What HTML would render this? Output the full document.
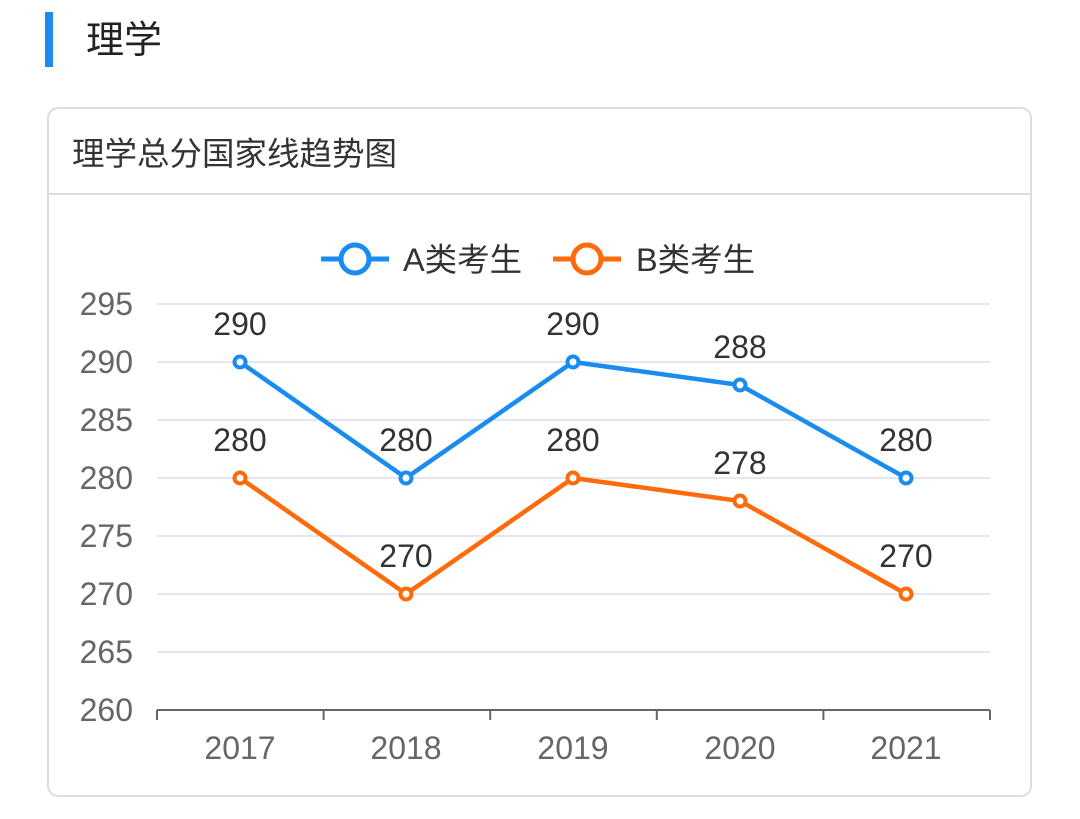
<!DOCTYPE html>
<html><head><meta charset="utf-8"><style>
body{margin:0;background:#fff;width:1080px;height:814px;overflow:hidden;font-family:"Liberation Sans","Noto Sans CJK SC",sans-serif;}
</style></head><body>
<svg width="1080" height="814" xmlns="http://www.w3.org/2000/svg" font-family="Liberation Sans, Noto Sans CJK SC, sans-serif">
<rect x="45" y="12" width="8" height="55" fill="#1a8cf0"/>
<text x="86" y="53" font-size="38" fill="#222">理学</text>
<rect x="48" y="108" width="983" height="688" rx="10" fill="#fff" stroke="#ddd" stroke-width="2"/>
<text x="72" y="165" font-size="32.5" fill="#333">理学总分国家线趋势图</text>
<line x1="48" y1="194" x2="1031" y2="194" stroke="#ddd" stroke-width="2"/>
<g stroke="#e6e6f0" stroke-width="2">
<line x1="157" y1="304" x2="990" y2="304"/><line x1="157" y1="362" x2="990" y2="362"/>
<line x1="157" y1="420" x2="990" y2="420"/><line x1="157" y1="478" x2="990" y2="478"/>
<line x1="157" y1="536" x2="990" y2="536"/><line x1="157" y1="594" x2="990" y2="594"/>
<line x1="157" y1="652" x2="990" y2="652"/>
</g>
<g stroke="#666" stroke-width="2">
<line x1="157" y1="710" x2="990" y2="710"/>
<line x1="157" y1="710" x2="157" y2="720"/><line x1="323.6" y1="710" x2="323.6" y2="720"/>
<line x1="490.2" y1="710" x2="490.2" y2="720"/><line x1="656.8" y1="710" x2="656.8" y2="720"/>
<line x1="823.4" y1="710" x2="823.4" y2="720"/><line x1="990" y1="710" x2="990" y2="720"/>
</g>
<g font-size="32" fill="#666" text-anchor="end">
<text x="133" y="315">295</text><text x="133" y="373">290</text><text x="133" y="431">285</text>
<text x="133" y="489">280</text><text x="133" y="547">275</text><text x="133" y="605">270</text>
<text x="133" y="663">265</text><text x="133" y="721">260</text>
</g>
<g font-size="32" fill="#666" text-anchor="middle">
<text x="240" y="759">2017</text><text x="406" y="759">2018</text><text x="573" y="759">2019</text>
<text x="740" y="759">2020</text><text x="906" y="759">2021</text>
</g>
<polyline points="240,362 406,478 573,362 740,385 906,478" fill="none" stroke="#1a8cf0" stroke-width="4.5"/>
<polyline points="240,478 406,594 573,478 740,501 906,594" fill="none" stroke="#ff6a0a" stroke-width="4.5"/>
<g fill="#fff" stroke="#1a8cf0" stroke-width="4">
<circle cx="240" cy="362" r="5.5"/><circle cx="406" cy="478" r="5.5"/><circle cx="573" cy="362" r="5.5"/><circle cx="740" cy="385" r="5.5"/><circle cx="906" cy="478" r="5.5"/>
</g>
<g fill="#fff" stroke="#ff6a0a" stroke-width="4">
<circle cx="240" cy="478" r="5.5"/><circle cx="406" cy="594" r="5.5"/><circle cx="573" cy="478" r="5.5"/><circle cx="740" cy="501" r="5.5"/><circle cx="906" cy="594" r="5.5"/>
</g>
<g font-size="32" fill="#333" text-anchor="middle">
<text x="240" y="335">290</text><text x="406" y="451">280</text><text x="573" y="335">290</text><text x="740" y="358">288</text><text x="906" y="451">280</text>
<text x="240" y="451">280</text><text x="406" y="567">270</text><text x="573" y="451">280</text><text x="740" y="474">278</text><text x="906" y="567">270</text>
</g>
<line x1="321" y1="259" x2="389" y2="259" stroke="#1a8cf0" stroke-width="5"/>
<circle cx="355" cy="259" r="14" fill="#fff" stroke="#1a8cf0" stroke-width="5"/>
<text x="403" y="271" font-size="32.5" fill="#333">A类考生</text>
<line x1="553" y1="259" x2="621" y2="259" stroke="#ff6a0a" stroke-width="5"/>
<circle cx="587" cy="259" r="14" fill="#fff" stroke="#ff6a0a" stroke-width="5"/>
<text x="636" y="271" font-size="32.5" fill="#333">B类考生</text>
</svg>
</body></html>
